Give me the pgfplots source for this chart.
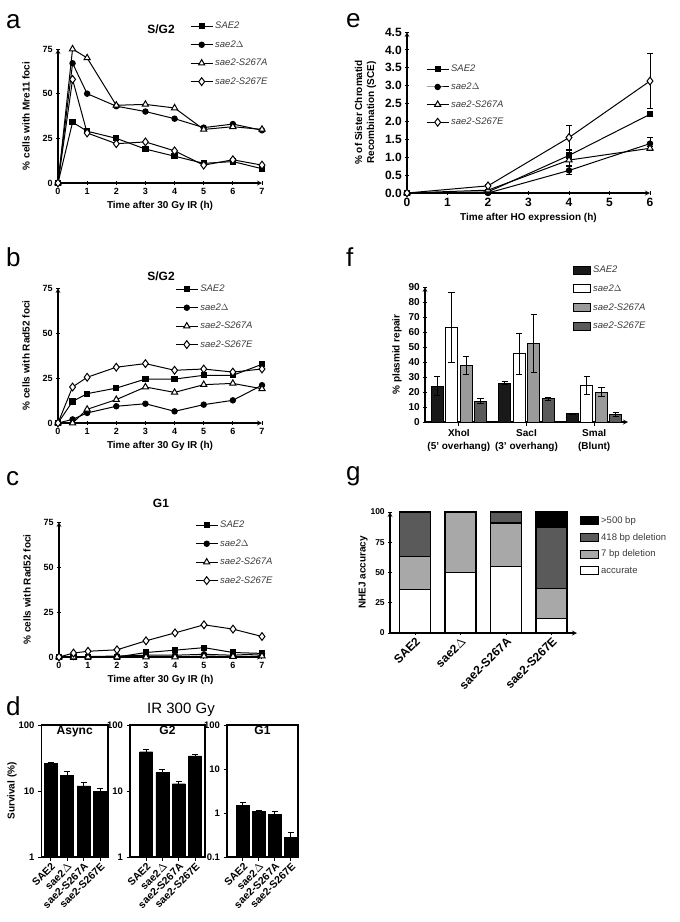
\documentclass[border=0pt]{standalone}
\usepackage{fontspec}
\setmainfont{Liberation Sans}
\usepackage{pgfplots}
\pgfplotsset{compat=1.18}
\definecolor{lgray}{HTML}{A8A8A8}
\definecolor{mgray}{HTML}{9A9A9A}
\definecolor{dgray}{HTML}{5A5A5A}
\definecolor{txtgray}{HTML}{3A3A3A}
\pgfplotsset{
  base/.style={scale only axis, anchor=south west,
    axis line style={-,line width=1.2pt},
    tick style={line width=1pt,black}, tick align=outside, major tick length=3.5pt,
    ticklabel style={font=\bfseries\fontsize{9}{10}\selectfont},
    label style={font=\bfseries\fontsize{10}{12}\selectfont},
    /pgf/number format/assume math mode=true, clip=false},
  tc/.style={base, axis lines=left, xmin=0, xmax=7, ymin=0, ymax=75,
    xtick={0,...,7}, ytick={0,25,50,75},
    xlabel={Time after 30 Gy IR (h)}, ylabel style={yshift=6pt},
    legend style={draw=none, fill=none, inner sep=0pt, row sep=6.3pt,
      font=\itshape\fontsize{9.5}{10}\selectfont, text=txtgray, cells={anchor=west}},
    legend image code/.code={\draw[mark repeat=2,mark phase=2,##1] plot coordinates {(0pt,0pt) (11pt,0pt) (22pt,0pt)};}},
  s1/.style={black, line width=1pt, mark=square*, mark size=2.6pt, mark options={solid,fill=black}},
  s2/.style={black, line width=1pt, mark=*, mark size=2.7pt, mark options={solid,fill=black}},
  s3/.style={black, line width=1pt, mark=triangle*, mark size=3.6pt, mark options={solid,fill=white}},
  s4/.style={black, line width=1pt, mark=diamond*, mark size=3.9pt, mark options={solid,fill=white}},
  surv/.style={base,
    axis line style={line width=1.3pt},
    xtick={1,2,3,4}, xtick pos=bottom, ytick pos=left, minor tick length=0pt,
    xticklabels={SAE2,sae2$\Delta$,sae2-S267A,sae2-S267E},
    yticklabel style={font=\bfseries\fontsize{9.5}{10}\selectfont},
    xticklabel style={rotate=45, anchor=north east, inner sep=1pt, font=\bfseries\fontsize{10.5}{11}\selectfont},
    title style={at={(0.5,0.97)}, anchor=north, font=\bfseries\fontsize{12}{12}\selectfont},
    height=132pt},
  sbar/.style={fill=black, draw=black, error bars/.cd, y dir=plus, y explicit,
    error bar style={line width=1pt,black}, error mark options={rotate=90,mark size=3pt,line width=1pt,black}},
  ebar/.style={error bars/.cd, y dir=both, y explicit,
    error bar style={line width=1pt,black}, error mark options={rotate=90,mark size=3.2pt,line width=1pt,black}},
}
\begin{document}
\begin{tikzpicture}
\path[use as bounding box] (0,0) rectangle (680pt,-922pt);
\def\lett#1{\fontsize{26}{26}\selectfont #1}
\node[anchor=base west, inner sep=0pt] at (6pt,-28pt) {\lett{a}};
\node[anchor=base west, inner sep=0pt] at (6pt,-266pt) {\lett{b}};
\node[anchor=base west, inner sep=0pt] at (6pt,-485pt) {\lett{c}};
\node[anchor=base west, inner sep=0pt] at (6pt,-715pt) {\lett{d}};
\node[anchor=base west, inner sep=0pt] at (346pt,-27pt) {\lett{e}};
\node[anchor=base west, inner sep=0pt] at (346pt,-266pt) {\lett{f}};
\node[anchor=base west, inner sep=0pt] at (346pt,-480pt) {\lett{g}};
\node[anchor=base, font=\bfseries\fontsize{12}{12}\selectfont] at (161pt,-33pt) {S/G2};
\node[anchor=base, font=\bfseries\fontsize{12}{12}\selectfont] at (161pt,-280pt) {S/G2};
\node[anchor=base, font=\bfseries\fontsize{12}{12}\selectfont] at (161pt,-507pt) {G1};
\node[anchor=base, font=\fontsize{15}{15}\selectfont] at (181pt,-713pt) {IR 300 Gy};

% ---------- a ----------
\begin{axis}[tc, at={(58pt,-183pt)}, width=204pt, height=134pt,
  ylabel={\% cells with Mre11 foci},
  legend style={at={(0.647,1.216)}, anchor=north west}]
\addplot[s1] table {
x y
0 0
0.5 34
1 29
2 25
3 19
4 15
5 11
6 12
7 8
};
\addlegendentry{SAE2}
\addplot[s2] table {
x y
0 0
0.5 67
1 50
2 43
3 40
4 36
5 31
6 33
7 29.5
};
\addlegendentry{sae2$\Delta$}
\addplot[s3] table {
x y
0 0
0.5 75
1 70
2 43.5
3 44
4 42
5 30
6 31.5
7 30
};
\addlegendentry{sae2-S267A}
\addplot[s4] table {
x y
0 0
0.5 58
1 28
2 22
3 23
4 18
5 10
6 13
7 10
};
\addlegendentry{sae2-S267E}
\end{axis}

% ---------- b ----------
\begin{axis}[tc, at={(58pt,-423pt)}, width=204pt, height=135pt,
  ylabel={\% cells with Rad52 foci},
  legend style={at={(0.574,1.037)}, anchor=north west}]
\addplot[s1] table {
x y
0 0
0.5 12
1 16.3
2 19.4
3 24.4
4 24.4
5 26.5
6 26.5
7 32.6
};
\addlegendentry{SAE2}
\addplot[s2] table {
x y
0 0
0.5 2
1 5.6
2 9.3
3 10.7
4 6.5
5 10.2
6 12.6
7 21
};
\addlegendentry{sae2$\Delta$}
\addplot[s3] table {
x y
0 0
0.5 0
1 7.6
2 13
3 20
4 17
5 21.3
6 22
7 19
};
\addlegendentry{sae2-S267A}
\addplot[s4] table {
x y
0 0
0.5 20
1 25.4
2 31
3 33
4 29.3
5 30
6 28.3
7 30
};
\addlegendentry{sae2-S267E}
\end{axis}

% ---------- c ----------
\begin{axis}[tc, at={(59pt,-657pt)}, width=203pt, height=135pt,
  ylabel={\% cells with Rad52 foci},
  legend style={at={(0.67,1.022)}, anchor=north west}]
\addplot[s1] table {
x y
0 0
0.5 0
1 0
2 0
3 2.5
4 3.8
5 5.2
6 2.5
7 2
};
\addlegendentry{SAE2}
\addplot[s2] table {
x y
0 0
0.5 0
1 0.3
2 0.5
3 1
4 1
5 1.5
6 1
7 1.8
};
\addlegendentry{sae2$\Delta$}
\addplot[s3] table {
x y
0 0
0.5 0
1 0
2 0
3 0
4 0
5 0.5
6 0.3
7 0.5
};
\addlegendentry{sae2-S267A}
\addplot[s4] table {
x y
0 0
0.5 2.2
1 3.2
2 4
3 9
4 13.4
5 17.9
6 15.5
7 11.4
};
\addlegendentry{sae2-S267E}
\end{axis}

% ---------- d ----------
\begin{axis}[surv, at={(41.5pt,-857pt)}, width=66.5pt, xmin=0.45, xmax=4.48,
  ymode=log, log origin=infty,
  ymin=1, ymax=100, ytick={1,10,100}, yticklabels={1,10,100},
  ylabel={Survival (\%)}, ylabel style={yshift=-5pt}, title={Async}, ybar, bar width=13pt]
\addplot[sbar] table[y error=e] {
x y e
1 26.2 0.5
2 17.4 2.6
3 12.0 1.5
4 9.9 1.0
};
\end{axis}
\begin{axis}[surv, at={(130pt,-857pt)}, width=75pt, xmin=0.02, xmax=4.6,
  ymode=log, log origin=infty,
  ymin=1, ymax=100, ytick={1,10,100}, yticklabels={1,10,100}, title={G2}, ybar, bar width=13pt]
\addplot[sbar] table[y error=e] {
x y e
1 39.4 3.3
2 19.1 2.4
3 12.9 1.2
4 34.2 2.1
};
\end{axis}
\begin{axis}[surv, at={(227pt,-857pt)}, width=71pt, xmin=0, xmax=4.45,
  ymode=log, log origin=infty,
  ymin=0.1, ymax=100, ytick={0.1,1,10,100}, yticklabels={0.1,1,10,100}, title={G1}, ybar, bar width=13pt]
\addplot[sbar] table[y error=e] {
x y e
1 1.50 0.20
2 1.10 0.06
3 0.92 0.14
4 0.275 0.083
};
\end{axis}

% ---------- e ----------
\begin{axis}[tc, at={(407pt,-193pt)}, width=243pt, height=161pt,
  xmin=0, xmax=6, ymin=0, ymax=4.5, xtick={0,...,6}, ytick={0,0.5,...,4.5},
  ticklabel style={font=\bfseries\fontsize{12}{12}\selectfont},
  yticklabel style={/pgf/number format/.cd, fixed, fixed zerofill, precision=1},
  xlabel={Time after HO expression (h)},
  ylabel={\% of Sister Chromatid\\Recombination (SCE)}, ylabel style={align=center, yshift=-4pt},
  legend style={at={(0.078,0.807)}, anchor=north west, row sep=5.5pt}]
\addplot[s1, ebar] table[y error=e] {
x y e
0 0 0
2 0.03 0.02
4 1.05 0.13
6 2.2 0.05
};
\addlegendentry{SAE2}
\addplot[s2, ebar] table[y error=e] {
x y e
0 0 0
2 0.0 0.02
4 0.63 0.12
6 1.38 0.18
};
\addlegendentry{sae2$\Delta$}
\addplot[s3, ebar] table[y error=e] {
x y e
0 0 0
2 0.08 0.02
4 0.92 0.15
6 1.25 0.06
};
\addlegendentry{sae2-S267A}
\addplot[s4, ebar] table[y error=e] {
x y e
0 0 0
2 0.2 0.03
4 1.55 0.33
6 3.13 0.77
};
\addlegendentry{sae2-S267E}
\end{axis}

% ---------- f ----------
\begin{axis}[base, axis lines=left,
  at={(425pt,-422pt)}, width=203pt, height=135pt,
  xmin=-0.5, xmax=2.5, ymin=0, ymax=90, ytick={0,10,...,90},
  yticklabel style={font=\bfseries\fontsize{10}{10}\selectfont},
  xtick={0,1,2}, xticklabels={XhoI\\(5' overhang), SacI\\(3' overhang), SmaI\\(Blunt)},
  xticklabel style={align=center, font=\bfseries\fontsize{10}{13}\selectfont},
  ylabel={\% plasmid repair},
  legend style={at={(0.729,1.17)}, anchor=north west, draw=none, fill=none, inner sep=0pt, row sep=6.5pt,
    font=\itshape\fontsize{9.5}{10}\selectfont, text=txtgray, cells={anchor=west}},
  ybar, bar width=12pt,
  legend image code/.code={\draw[#1, line width=1pt] (0pt,-4pt) rectangle (17pt,4pt);}]
\addplot[fill=black!90, draw=black, line width=1pt, bar shift=-21.75pt, ebar] table[y error=e] {
x y e
0 24 6.5
1 26 1
2 5.5 0.5
};
\addlegendentry{SAE2}
\addplot[fill=white, draw=black, line width=1pt, bar shift=-7.25pt, ebar] table[y error=e] {
x y e
0 62.8 23.3
1 45.4 13.6
2 24.3 6
};
\addlegendentry{sae2$\Delta$}
\addplot[fill=mgray, draw=black, line width=1pt, bar shift=7.25pt, ebar] table[y error=e] {
x y e
0 37.6 6.2
1 52.6 19.3
2 19.7 3
};
\addlegendentry{sae2-S267A}
\addplot[fill=dgray, draw=black, line width=1pt, bar shift=21.75pt, ebar] table[y error=e] {
x y e
0 14 1.5
1 15.5 1
2 4.9 1.5
};
\addlegendentry{sae2-S267E}
\end{axis}

% ---------- g ----------
\begin{axis}[base, axis lines=left,
  at={(390pt,-633pt)}, width=187pt, height=121pt,
  xmin=-0.55, xmax=3.56, ymin=0, ymax=100, ytick={0,25,50,75,100},
  yticklabel style={font=\bfseries\fontsize{8.5}{9}\selectfont},
  xtick={0,1,2,3}, xticklabels={SAE2,sae2$\Delta$,sae2-S267A,sae2-S267E},
  xticklabel style={rotate=45, anchor=north east, inner sep=1pt, font=\bfseries\fontsize{12}{12}\selectfont},
  ylabel={NHEJ accuracy}, ylabel style={yshift=-4pt}, reverse legend,
  legend style={at={(1.016,0.983)}, anchor=north west, draw=none, fill=none, inner sep=0pt, row sep=4.5pt,
    font=\fontsize{9.5}{10}\selectfont, text=txtgray, cells={anchor=west}},
  ybar stacked, bar width=31pt,
  legend image code/.code={\draw[#1, line width=1pt] (0pt,-4pt) rectangle (18pt,4pt);}]
\addplot[fill=white, draw=black, line width=1.2pt] table {
x y
0 36
1 50
2 55
3 12
};
\addlegendentry{accurate}
\addplot[fill=lgray, draw=black, line width=1.2pt] table {
x y
0 27
1 50
2 36
3 25
};
\addlegendentry{7 bp deletion}
\addplot[fill=dgray, draw=black, line width=1.2pt] table {
x y
0 37
1 0
2 9
3 50
};
\addlegendentry{418 bp deletion}
\addplot[fill=black, draw=black, line width=1.2pt] table {
x y
0 0
1 0
2 0
3 13
};
\addlegendentry{>500 bp}
\end{axis}
\end{tikzpicture}
\end{document}
